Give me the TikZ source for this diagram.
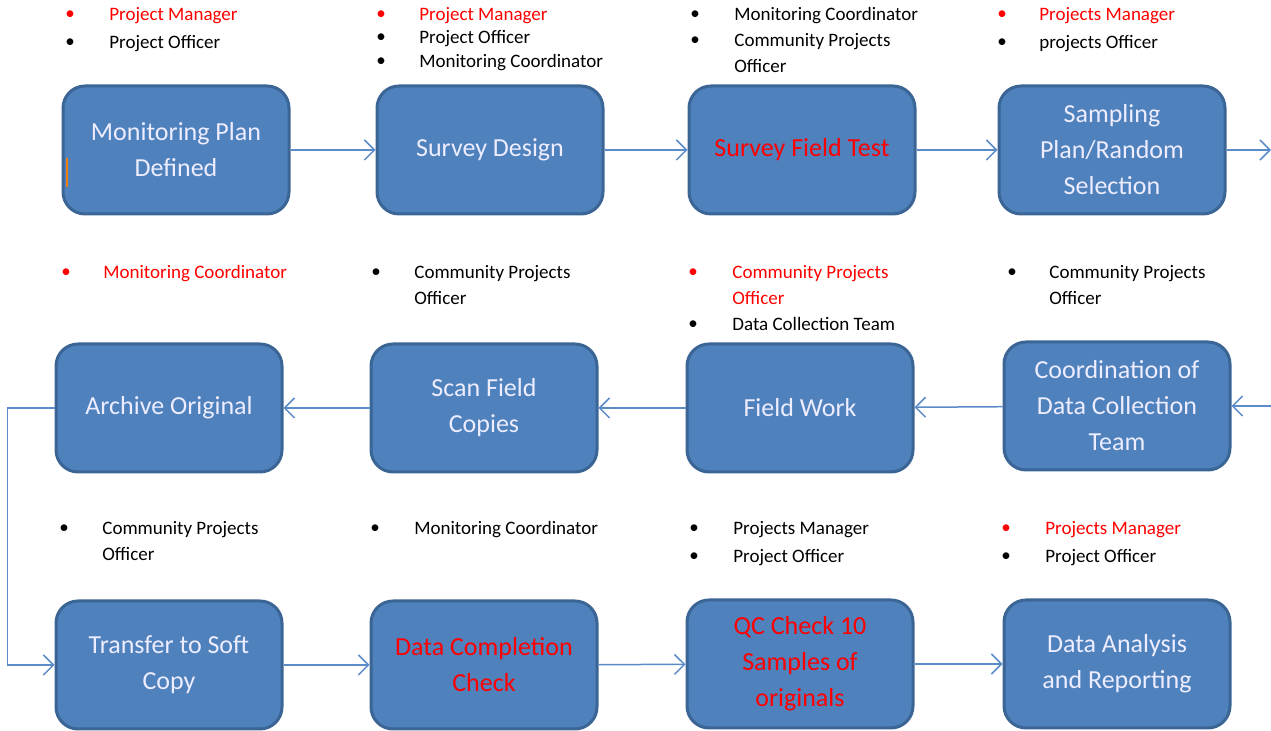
\documentclass[tikz,border=0pt]{standalone}
\usepackage{fontspec}
\setmainfont{Carlito}
\usepackage{xcolor}
\usetikzlibrary{arrows.meta}
\definecolor{boxfill}{HTML}{4F81BD}
\definecolor{boxline}{HTML}{3A6594}
\definecolor{flowline}{HTML}{5B8BC8}
\definecolor{lead}{HTML}{FF0000}

\begin{document}
\begin{tikzpicture}[x=0.5pt,y=-0.5pt]
\tikzset{task/.style={draw=boxline,fill=boxfill,line width=1.5pt,rounded corners=11pt,minimum width=113pt,minimum height=64pt,text=white!93!blue,align=center,font=\fontsize{13}{18}\selectfont}}
\tikzset{flow/.style={draw=flowline,line width=0.75pt,-{Straight Barb[length=5pt,width=10pt]}}}
\tikzset{dot/.style={anchor=base,inner sep=0pt,font=\fontsize{9.5}{13}\selectfont}}
\tikzset{who/.style={anchor=north west,align=left,inner sep=0pt,font=\fontsize{9.5}{13}\selectfont}}

\useasboundingbox (0,0) rectangle (1271,731);

\node[task] (plan) at (176,150) {Monitoring Plan\\Defined};
\node[task] (design) at (490,150) {Survey Design};
\node[task,text=lead] (test) at (802,150) {Survey Field Test};
\node[task] (sample) at (1112,150) {Sampling\\Plan/Random\\Selection};

\node[task] (archive) at (169,408) {Archive Original};
\node[task] (scan) at (484,408) {Scan Field\\Copies};
\node[task] (field) at (800,408) {Field Work};
\node[task] (coord) at (1117,406) {Coordination of\\Data Collection\\Team};

\node[task] (soft) at (169,665) {Transfer to Soft\\Copy};
\node[task,text=lead] (complete) at (484,665) {Data Completion\\Check};
\node[task,text=lead] (qc) at (800,664) {QC Check 10\\Samples of\\originals};
\node[task] (report) at (1117,664) {Data Analysis\\and Reporting};

\draw[draw=orange!75!brown,line width=1pt] (67,158) -- (67,187);

\coordinate (out) at (1271,150);
\coordinate (in) at (1271,406);

\draw[flow] (plan) -- (design);
\draw[flow] (design) -- (test);
\draw[flow] (test) -- (sample);
\draw[flow] (sample) -- (out);
\draw[flow] (in) -- (coord);
\draw[flow] (coord) -- (field);
\draw[flow] (field) -- (scan);
\draw[flow] (scan) -- (archive);
\draw[flow] (archive.west) -- ++(-47,0) |- (soft.west);
\draw[flow] (soft) -- (complete);
\draw[flow] (complete) -- (qc);
\draw[flow] (qc) -- (report);

\foreach \bx/\tx/\ty/\c/\t [count=\i] in {
  70/109/20/lead/{Project Manager},
  70/109/48/black/{Project Officer},
  381/419/20/lead/{Project Manager},
  381/419/43/black/{Project Officer},
  381/419/67/black/{Monitoring Coordinator},
  695/734/20/black/{Monitoring Coordinator},
  695/734/46/black/{Community Projects\\Officer},
  1002/1039/20/lead/{Projects Manager},
  1002/1039/48/black/{projects Officer},
  66/103/278/lead/{Monitoring Coordinator},
  376/414/278/black/{Community Projects\\Officer},
  693/732/278/lead/{Community Projects\\Officer},
  693/732/330/black/{Data Collection Team},
  1012/1049/278/black/{Community Projects\\Officer},
  64/102/534/black/{Community Projects\\Officer},
  375/414/534/black/{Monitoring Coordinator},
  694/733/534/black/{Projects Manager},
  694/733/562/black/{Project Officer},
  1006/1045/534/lead/{Projects Manager},
  1006/1045/562/black/{Project Officer}}
{
  \node[dot,text=\c] (dot\i) at (\bx,\ty) {\textbullet};
  \node[who,text=\c] (who\i) at (\tx,\ty-17.8) {\strut\t};
}

\end{tikzpicture}
\end{document}
